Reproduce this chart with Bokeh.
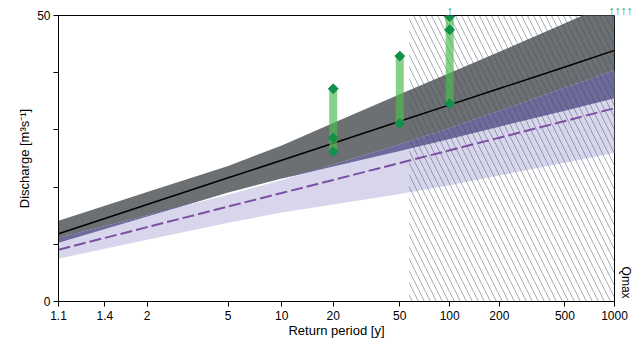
import numpy as np
from bokeh.plotting import figure
from bokeh.models import Range1d, FixedTicker, CustomJSTickFormatter, LinearAxis
from bokeh.embed import file_html
from bokeh.resources import INLINE

# ---------------- data ----------------
return_period = [1.1, 1.4, 2, 5, 10, 20, 50, 100, 200, 500, 1000]
# model A (black line, grey band)
q_a = [11.85, 14.51, 16.95, 21.62, 24.70, 27.67, 31.50, 34.37, 37.23, 41.01, 43.90]
q_a_upper = [14.11, 16.74, 19.15, 23.68, 27.28, 31.20, 36.24, 39.93, 43.66, 48.64, 52.5]
q_a_lower = [10.28, 12.68, 14.86, 19.06, 21.50, 23.59, 26.33, 28.43, 30.56, 33.36, 35.54]
# model B (purple dashed line, lavender band)
q_b = [9.06, 11.12, 13.00, 16.60, 18.97, 21.25, 24.22, 26.43, 28.64, 31.55, 33.80]
q_b_upper = [11.15, 13.21, 15.07, 18.66, 21.26, 23.96, 27.47, 30.35, 33.36, 37.35, 40.42]
q_b_lower = [7.49, 9.22, 10.78, 13.78, 15.54, 16.95, 18.78, 20.33, 22.02, 24.25, 25.96]

# observed / historical estimates (green)
obs_T = [20, 20, 20, 50, 50, 100, 100, 100]
obs_Q = [37.2, 28.6, 26.2, 42.9, 31.1, 49.8, 47.5, 34.6]
bar_T = [20, 50, 100]
bar_low = [26.2, 31.1, 34.6]
bar_high = [37.2, 42.9, 50.0]
exceed_T = [100, 1000]                       # values beyond the scale
exceed_marks = ["↑", "\u2003↑↑↑↑"]
record_length = 57                           # hatched region starts here

x_ticks = [1.1, 1.4, 2, 5, 10, 20, 50, 100, 200, 500, 1000]
x_tick_labels = ["1.1", "1.4", "2", "5", "10", "20", "50", "100", "200", "500", "1000"]
y_ticks = [0, 10, 20, 30, 40, 50]
y_tick_labels = ["0", "", "", "", "", "50"]
qmax_tick = [3.3]
qmax_label = ["Qmax"]


def gumbel(T):
    T = np.asarray(T, dtype=float)
    return -np.log(-np.log(1.0 - 1.0 / T))


FONT = "Liberation Sans"
LOOKUP = """let b=0; for (let i=0;i<pos.length;i++){ if (Math.abs(pos[i]-tick)<Math.abs(pos[b]-tick)) b=i; } return labels[b];"""

u = gumbel(return_period)
x0, x1 = float(gumbel(1.1)), float(gumbel(1000))

p = figure(width=642, height=345, output_backend="svg", toolbar_location=None,
           x_range=Range1d(x0, x1), y_range=Range1d(0, 50),
           min_border_left=58, min_border_right=28, min_border_top=14, min_border_bottom=44)
p.background_fill_color = "white"
p.border_fill_color = "white"
p.outline_line_color = "black"
p.outline_line_width = 1
p.xgrid.visible = False
p.ygrid.visible = False

# bands
p.varea(x=u, y1=q_a_lower, y2=q_a_upper, fill_color="#6d7072")
p.varea(x=u, y1=q_b_lower, y2=q_b_upper, fill_color="#d8d6ec")
a_lo = np.array(q_a_lower)
ov_top = np.minimum(np.array(q_b_upper), np.array(q_a_upper))
p.varea(x=u, y1=a_lo, y2=np.maximum(ov_top, a_lo), fill_color="#6e6a9c")

# hatched region beyond record length
p.quad(left=[float(gumbel(record_length))], right=[x1], bottom=[0], top=[50],
       fill_alpha=0, line_alpha=0, hatch_pattern="\\", hatch_scale=12,
       hatch_weight=0.9, hatch_color="#3a4a5a", hatch_alpha=0.5)

# model lines
p.line(u, q_a, line_color="black", line_width=1.5)
p.line(u, q_b, line_color="#7b4fa3", line_width=2, line_dash="12 4")

# green bars and points
ub = gumbel(bar_T)
p.segment(x0=ub, y0=bar_low, x1=ub, y1=bar_high, line_width=8,
          line_color="#4cbb50", line_alpha=0.68, line_cap="butt")
p.scatter(gumbel(obs_T), obs_Q, marker="square", angle=np.pi / 4, size=7,
          fill_color="#13904a", line_color="#13904a")

# axes
p.xaxis.ticker = FixedTicker(ticks=[float(v) for v in gumbel(x_ticks)])
p.xaxis.formatter = CustomJSTickFormatter(
    args=dict(pos=[float(v) for v in gumbel(x_ticks)], labels=x_tick_labels), code=LOOKUP)
p.yaxis.ticker = FixedTicker(ticks=y_ticks)
p.yaxis.formatter = CustomJSTickFormatter(
    args=dict(pos=y_ticks, labels=y_tick_labels), code=LOOKUP)

p.xaxis.axis_label = "Return period [y]"
p.yaxis.axis_label = "Discharge [m³s⁻¹]"
for ax in (p.xaxis, p.yaxis):
    ax.axis_line_color = "black"
    ax.axis_line_width = 1
    ax.major_tick_line_color = "black"
    ax.major_tick_out = 5
    ax.major_tick_in = 0
    ax.minor_tick_line_color = None
    ax.major_label_text_font = FONT
    ax.major_label_text_font_size = "12px"
    ax.major_label_text_color = "black"
    ax.axis_label_text_font = FONT
    ax.axis_label_text_font_size = "13px"
    ax.axis_label_text_font_style = "normal"
    ax.axis_label_text_color = "black"
p.xaxis.major_label_standoff = 4
p.xaxis.axis_label_standoff = 0
p.yaxis.major_label_standoff = 3
p.yaxis.axis_label_standoff = 2

# arrows for values beyond the top of the scale
top_axis = LinearAxis(
    ticker=FixedTicker(ticks=[float(v) for v in gumbel(exceed_T)]),
    formatter=CustomJSTickFormatter(args=dict(pos=[float(v) for v in gumbel(exceed_T)],
                                              labels=exceed_marks), code=LOOKUP),
    axis_line_color=None, major_tick_line_color=None, minor_tick_line_color=None,
    major_tick_out=0, major_tick_in=0, minor_tick_out=0, minor_tick_in=0,
    major_label_standoff=-2, major_label_text_color="#13904a",
    major_label_text_font="Liberation Sans", major_label_text_font_size="12px")
p.add_layout(top_axis, "above")

# Qmax marker on the right side
right_axis = LinearAxis(
    ticker=FixedTicker(ticks=qmax_tick),
    formatter=CustomJSTickFormatter(args=dict(pos=qmax_tick, labels=qmax_label), code=LOOKUP),
    axis_line_color=None, major_tick_line_color=None, minor_tick_line_color=None,
    major_tick_out=0, major_tick_in=0, minor_tick_out=0, minor_tick_in=0,
    major_label_standoff=4, major_label_orientation="vertical",
    major_label_text_color="black", major_label_text_font=FONT,
    major_label_text_font_size="12px")
p.add_layout(right_axis, "right")

open("out.html", "w").write(file_html(p, INLINE))
